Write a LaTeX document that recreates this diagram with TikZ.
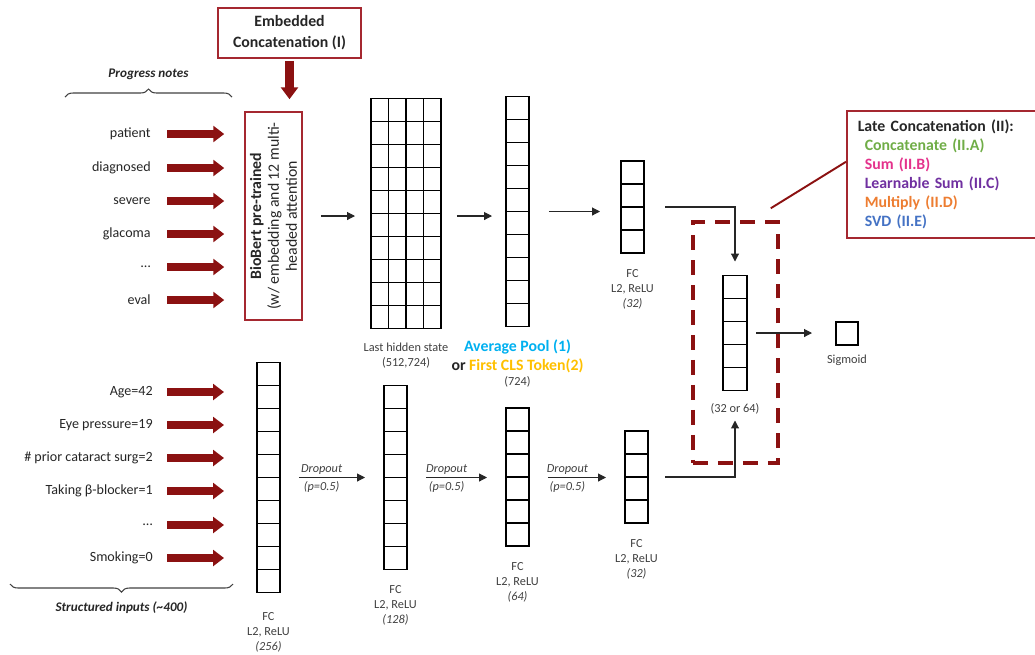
\documentclass[tikz,border=0pt]{standalone}
\usepackage{fontspec}
\setmainfont{Carlito}
\usepackage{tikz}
\usetikzlibrary{arrows.meta,positioning,decorations.pathreplacing,calc}
\definecolor{arrowRed}{RGB}{139,17,17}
\definecolor{boxRed}{RGB}{165,40,48}
\definecolor{txtDark}{RGB}{38,38,38}
\definecolor{txtGray}{RGB}{64,64,64}
\definecolor{poolBlue}{RGB}{0,176,240}
\definecolor{clsGold}{RGB}{255,192,0}
\definecolor{optGreen}{RGB}{112,173,71}
\definecolor{optPink}{RGB}{228,50,140}
\definecolor{optPurple}{RGB}{112,48,160}
\definecolor{optOrange}{RGB}{237,125,49}
\definecolor{optBlue}{RGB}{68,114,196}

% column of cells: name, x, y, rows, width
\newcommand{\nnlayer}[5]{%
  \node[cellbox, minimum width=#5, minimum height=#4*0.46cm] (#1) at (#2,#3) {};
  \pgfmathtruncatemacro{\nrow}{#4-1}
  \foreach \k in {1,...,\nrow}
    \draw[cellline] ($(#1.north west)!\k/#4!(#1.south west)$) -- ($(#1.north east)!\k/#4!(#1.south east)$);
}

\begin{document}
\begin{tikzpicture}[x=0.02cm, y=-0.02cm,
  cellbox/.style={draw=black, thick, inner sep=0pt, outer sep=0pt},
  cellline/.style={black, thick},
  word/.style={font=\fontsize{8}{9.6}\selectfont, text=txtDark, anchor=east, inner sep=0pt},
  lbl/.style={font=\fontsize{7}{8.5}\selectfont, text=txtGray, align=center, inner sep=0pt},
  hdr/.style={font=\fontsize{7.5}{9}\selectfont\bfseries\itshape, text=txtDark, inner sep=0pt},
  redbox/.style={draw=boxRed, line width=0.9pt, inner sep=0pt},
  fusebox/.style={draw=arrowRed, line width=2pt, dash pattern=on 8.5pt off 5.7pt, inner sep=0pt},
  bigarrow/.style={arrowRed, line width=4.7pt, -{Triangle[length=6.2pt,width=9pt]}},
  bigdown/.style={arrowRed, line width=5pt, -{Triangle[length=6.8pt,width=9.6pt]}},
  flow/.style={txtDark, line width=0.6pt, -{Triangle[length=4.5pt,width=4.5pt]}},
  brace/.style={decorate, decoration={brace, amplitude=0.16cm}, txtGray, line width=0.6pt}]
  \useasboundingbox (0,0) rectangle (1035,654);

  % Embedded concatenation
  \node[redbox, minimum width=2.86cm, minimum height=1cm, align=center,
        font=\fontsize{9}{12}\selectfont\bfseries, text=txtDark] (emb) at (289.5,33)
        {Embedded\\Concatenation (I)};
  \node[redbox, minimum width=1.14cm, minimum height=4.16cm] (bert) at (273.5,216) {};
  \node[rotate=90, align=center, font=\fontsize{9}{10.2}\selectfont, text=txtDark] (berttxt) at (bert)
        {\textbf{BioBert pre-trained}\\(w/ embedding and 12 multi-\\headed attention};
  \draw[bigdown, shorten >=0.24cm, shorten <=0.04cm] (emb.south) -- (emb.south |- bert.north);

  % Progress notes
  \coordinate (pnL) at (65,97);
  \coordinate (pnR) at (232,97);
  \draw[brace] (pnL) -- (pnR) node[midway, above=0.34cm, hdr] (pnotes) {Progress notes};
  \foreach \y/\w [count=\i] in {134/patient, 168/diagnosed, 201/severe, 234/glacoma, 267/…, 300/eval}{
    \node[word] (p\i) at (151,\y) {\w};
    \coordinate (pa\i) at (167,\y);
    \draw[bigarrow, shorten >=0.4cm] (pa\i) -- (pa\i -| bert.west);
  }

  % BERT outputs
  \nnlayer{hid}{406}{213.5}{10}{1.4cm}
  \foreach \k in {1,2,3}
    \draw[cellline] ($(hid.north west)!\k/4!(hid.north east)$) -- ($(hid.south west)!\k/4!(hid.south east)$);
  \node[lbl, below=0.28cm of hid] (hidlbl) {Last hidden state\\(512,724)};
  \nnlayer{pool}{517.5}{211.5}{10}{0.46cm}
  \node[lbl, below=0.25cm of pool, font=\fontsize{9}{10.8}\selectfont] (poollbl)
    {\textbf{\textcolor{poolBlue}{Average Pool (1)}}\\
     \textbf{\textcolor{txtDark}{or} \textcolor{clsGold}{First CLS Token(2)}}\\[-2pt]
     {\fontsize{7}{8.5}\selectfont (724)}};
  \nnlayer{fctop}{632.5}{207}{4}{0.46cm}
  \node[lbl, below=0.32cm of fctop] (fctoplbl) {FC\\L2, ReLU\\\textit{(32)}};
  \draw[flow, shorten <=0.36cm, shorten >=0.32cm] (bert.east) -- (bert.east -| hid.west);
  \draw[flow, shorten <=0.32cm, shorten >=0.28cm] (hid.east |- bert.east) -- (pool.west |- bert.east);
  \draw[flow, shorten <=0.4cm, shorten >=0.42cm] (pool.east) -- (pool.east -| fctop.west);

  % Structured inputs
  \coordinate (siL) at (233,584);
  \coordinate (siR) at (10,584);
  \draw[brace] (siL) -- (siR) node[midway, below=0.34cm, hdr] (sinputs) {Structured inputs (\textasciitilde400)};
  \nnlayer{fcA}{268.5}{477.5}{10}{0.46cm}
  \foreach \y/\w [count=\i] in {392/Age=42, 425/Eye pressure=19, 458/\# prior cataract surg=2,
                                491/Taking β-blocker=1, 525/…, 558/Smoking=0}{
    \node[word] (s\i) at (153,\y) {\w};
    \coordinate (sa\i) at (167,\y);
    \draw[bigarrow, shorten >=0.66cm] (sa\i) -- (sa\i -| fcA.west);
  }
  \node[lbl, below=0.4cm of fcA] (fcAlbl) {FC\\L2, ReLU\\\textit{(256)}};
  \nnlayer{fcB}{395.5}{477.5}{8}{0.46cm}
  \node[lbl, below=0.32cm of fcB] (fcBlbl) {FC\\L2, ReLU\\\textit{(128)}};
  \nnlayer{fcC}{517.5}{477}{6}{0.46cm}
  \node[lbl, below=0.32cm of fcC] (fcClbl) {FC\\L2, ReLU\\\textit{(64)}};
  \nnlayer{fcD}{636.5}{477}{4}{0.46cm}
  \node[lbl, below=0.32cm of fcD] (fcDlbl) {FC\\L2, ReLU\\\textit{(32)}};
  \foreach \a/\b in {fcA/fcB, fcB/fcC, fcC/fcD}
    \draw[flow, shorten <=0.38cm, shorten >=0.38cm] (\a.east |- fcB) -- (\b.west |- fcB)
      node[pos=0.4, above=0.05cm, lbl, font=\fontsize{7}{8.5}\selectfont\itshape] {Dropout}
      node[pos=0.4, below=0.06cm, lbl, font=\fontsize{7}{8.5}\selectfont\itshape] {(p=0.5)};

  % Late concatenation
  \node[fusebox, minimum width=1.7cm, minimum height=4.82cm] (fuse) at (735.5,342.5) {};
  \nnlayer{cat}{735}{333}{5}{0.48cm}
  \node[lbl, below=0.26cm of cat] (catlbl) {(32 or 64)};
  \node[cellbox, minimum width=0.44cm, minimum height=0.46cm] (sig) at (847,333.5) {};
  \node[lbl, below=0.2cm of sig] (siglbl) {Sigmoid};
  \draw[flow, shorten <=0.42cm, shorten >=0.28cm] (fctop.east) -| (cat.north);
  \draw[flow, shorten <=0.34cm, shorten >=0.6cm] (fcD.east) -| (cat.south);
  \draw[flow, shorten <=0.18cm, shorten >=0.48cm] (cat.east) -- (cat.east -| sig.west);
  \node[redbox, anchor=north west, minimum height=2.54cm, text width=3.4cm, inner xsep=0.22cm,
        align=left, font=\fontsize{9}{10.8}\selectfont\bfseries] (late) at (846,110)
    {\textcolor{txtDark}{Late Concatenation (II):}\\
     \hspace*{0.14cm}\textcolor{optGreen}{Concatenate (II.A)}\\
     \hspace*{0.14cm}\textcolor{optPink}{Sum (II.B)}\\
     \hspace*{0.14cm}\textcolor{optPurple}{Learnable Sum (II.C)}\\
     \hspace*{0.14cm}\textcolor{optOrange}{Multiply (II.D)}\\
     \hspace*{0.14cm}\textcolor{optBlue}{SVD (II.E)}};
  \draw[arrowRed, line width=1.1pt] ([yshift=0.25cm]late.west) -- ([xshift=-0.18cm,yshift=0.24cm]fuse.north east);
\end{tikzpicture}
\end{document}
